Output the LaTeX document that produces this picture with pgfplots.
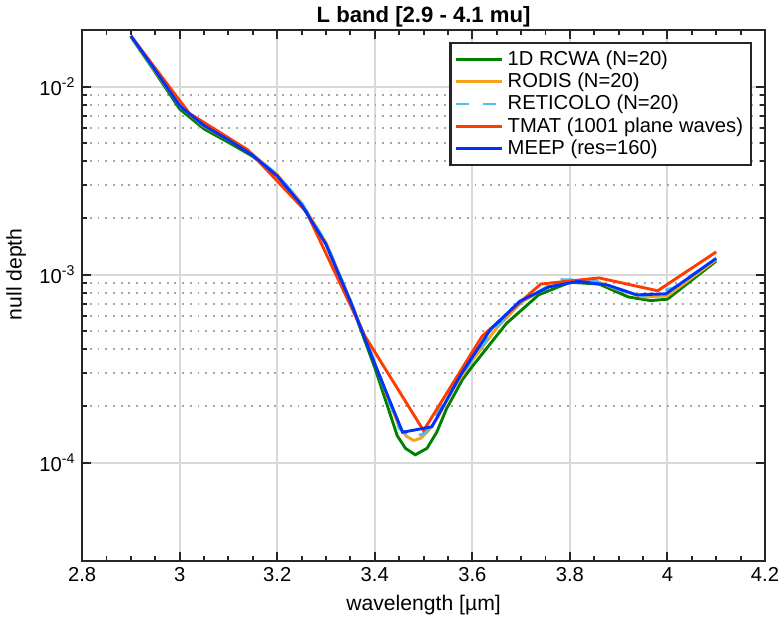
\documentclass[border=0pt]{standalone}
\usepackage{fontspec}
\setmainfont{Liberation Sans}
\usepackage{pgfplots}
\pgfplotsset{compat=1.18}
\definecolor{cgreen}{RGB}{0,128,0}
\definecolor{corange}{RGB}{247,160,25}
\definecolor{clblue}{RGB}{77,190,238}
\definecolor{cred}{RGB}{255,60,0}
\definecolor{cblue}{RGB}{0,50,255}
\definecolor{caxis}{RGB}{38,38,38}

\begin{document}
\begin{tikzpicture}
% grid only
\begin{axis}[
  scale only axis, width=355pt, height=276pt,
  xmin=2.8, xmax=4.2, ymode=log, ymin=3e-5, ymax=2e-2,
  xtick={2.8,3,3.2,3.4,3.6,3.8,4,4.2}, ytick={1e-4,1e-3,1e-2},
  xticklabels={}, yticklabels={},
  major tick length=0pt, minor tick length=0pt,
  axis line style={draw=none},
  xmajorgrids=true, ymajorgrids=true, yminorgrids=true,
  major grid style={line width=1pt, black!15},
  minor grid style={line width=1pt, black!35, dash pattern=on 1pt off 3pt},
]
\end{axis}
% frame, ticks, data
\begin{axis}[
  scale only axis, width=355pt, height=276pt,
  xmin=2.8, xmax=4.2, ymode=log, ymin=3e-5, ymax=2e-2,
  xtick={2.8,3,3.2,3.4,3.6,3.8,4,4.2}, ytick={1e-4,1e-3,1e-2},
  xticklabels={2.8,3,3.2,3.4,3.6,3.8,4,4.2},
  minor x tick num=3,
  yticklabels={10\textsuperscript{-4},10\textsuperscript{-3},10\textsuperscript{-2}},
  tick label style={font=\fontsize{10.5}{12}\selectfont},
  xticklabel style={inner xsep=0pt},
  tick align=inside,
  major tick length=4.5pt, minor tick length=2.5pt,
  every tick/.append style={caxis, line width=1pt},
  axis line style={line width=1.3pt, caxis},
  title={L band [2.9 - 4.1 mu]},
  title style={font=\bfseries\fontsize{11.5}{13}\selectfont, yshift=-8pt},
  xlabel={wavelength [µm]},
  ylabel={null depth},
  label style={font=\fontsize{11}{12}\selectfont},
  ylabel style={at={(ticklabel cs:0.54)}},
  legend style={at={(0.981,0.978)}, anchor=north east, draw=caxis, line width=1.3pt,
    font=\fontsize{10.5}{12}\selectfont, inner sep=2pt, row sep=-1.5pt, cells={anchor=west}},
  legend image code/.code={\draw[#1] (0cm,0cm) -- (0.85cm,0cm);},
  every axis plot/.append style={line width=1.5pt},
]
% 1D RCWA
\addplot[cgreen] coordinates {
(2.90,1.84e-2) (2.95,1.19e-2) (3.00,7.6e-3) (3.05,5.95e-3) (3.10,5.05e-3) (3.15,4.25e-3)
(3.20,3.35e-3) (3.25,2.35e-3) (3.30,1.45e-3) (3.35,7.2e-4) (3.40,3.2e-4) (3.426,2.0e-4)
(3.446,1.39e-4) (3.463,1.19e-4) (3.483,1.10e-4) (3.507,1.19e-4) (3.527,1.45e-4) (3.547,1.93e-4)
(3.58,2.77e-4) (3.60,3.25e-4) (3.67,5.5e-4) (3.736,7.8e-4) (3.80,9.1e-4) (3.86,8.9e-4)
(3.92,7.6e-4) (3.966,7.27e-4) (4.00,7.4e-4) (4.10,1.18e-3)};
% RODIS
\addplot[corange] coordinates {
(2.90,1.85e-2) (2.95,1.21e-2) (3.00,7.9e-3) (3.05,6.15e-3) (3.10,5.2e-3) (3.15,4.35e-3)
(3.20,3.4e-3) (3.25,2.4e-3) (3.30,1.48e-3) (3.35,7.3e-4) (3.40,3.4e-4) (3.43,2.1e-4)
(3.45,1.55e-4) (3.465,1.38e-4) (3.48,1.31e-4) (3.495,1.35e-4) (3.51,1.48e-4) (3.53,1.75e-4)
(3.56,2.45e-4) (3.60,3.5e-4) (3.65,5.2e-4) (3.70,7.1e-4) (3.75,8.5e-4) (3.80,9.2e-4)
(3.85,9.3e-4) (3.90,8.3e-4) (3.95,7.6e-4) (4.00,7.7e-4) (4.10,1.2e-3)};
% RETICOLO
\addplot[clblue, dash pattern=on 7pt off 7pt] coordinates {
(2.90,1.86e-2) (2.95,1.21e-2) (3.00,7.9e-3) (3.05,6.2e-3) (3.10,5.2e-3) (3.15,4.35e-3)
(3.20,3.4e-3) (3.25,2.4e-3) (3.30,1.48e-3) (3.35,7.3e-4) (3.40,3.4e-4) (3.43,2.1e-4)
(3.45,1.52e-4) (3.475,1.36e-4) (3.503,1.43e-4) (3.53,1.85e-4) (3.56,2.5e-4) (3.60,3.55e-4)
(3.65,5.3e-4) (3.70,7.2e-4) (3.78,9.4e-4) (3.85,9.3e-4) (3.90,8.3e-4) (3.95,7.7e-4)
(4.013,8.5e-4) (4.10,1.21e-3)};
% TMAT
\addplot[cred] coordinates {
(2.90,1.86e-2) (3.02,7.2e-3) (3.14,4.6e-3) (3.26,2.15e-3) (3.38,4.7e-4) (3.50,1.48e-4)
(3.62,4.7e-4) (3.74,8.9e-4) (3.86,9.6e-4) (3.98,8.2e-4) (4.10,1.32e-3)};
% MEEP
\addplot[cblue] coordinates {
(2.90,1.86e-2) (2.95,1.22e-2) (3.00,7.9e-3) (3.05,6.2e-3) (3.10,5.2e-3) (3.15,4.3e-3)
(3.20,3.35e-3) (3.25,2.35e-3) (3.30,1.45e-3) (3.35,7.2e-4) (3.397,3.5e-4) (3.457,1.45e-4)
(3.517,1.55e-4) (3.577,2.95e-4) (3.637,5.1e-4) (3.697,7.2e-4) (3.757,8.6e-4) (3.817,9.2e-4)
(3.877,8.8e-4) (3.937,7.8e-4) (3.997,7.9e-4) (4.10,1.22e-3)};
\legend{1D RCWA (N=20), RODIS (N=20), RETICOLO (N=20), TMAT (1001 plane waves), MEEP (res=160)}
\end{axis}
\end{tikzpicture}
\end{document}
